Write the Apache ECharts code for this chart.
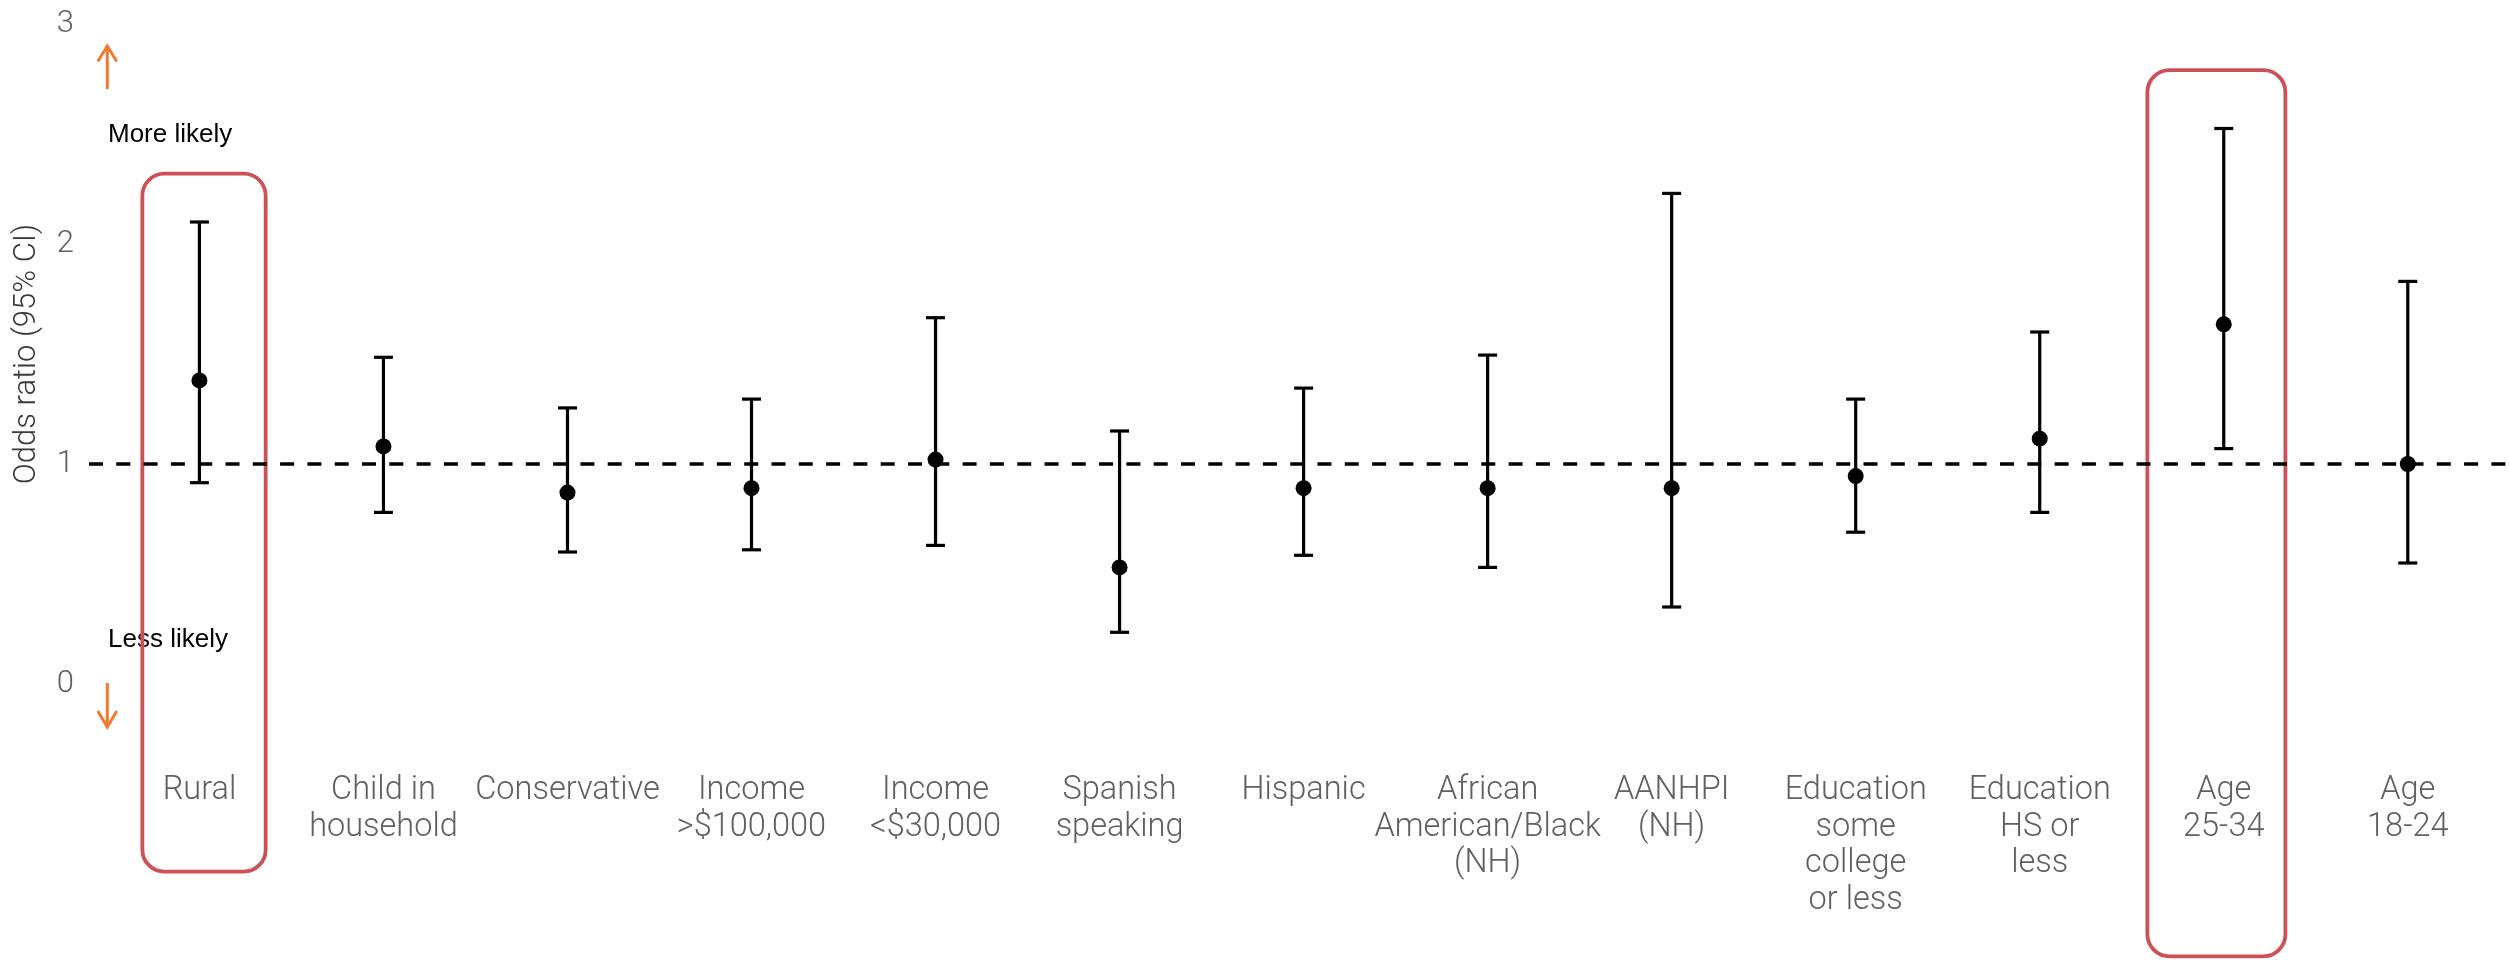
<!DOCTYPE html>
<html>
<head>
<meta charset="utf-8">
<title>Odds ratio (95% CI)</title>
<script src="https://cdn.jsdelivr.net/npm/echarts@6/dist/echarts.min.js"></script>
<style>
  html, body { margin: 0; padding: 0; background: #fff; }
  #chart { width: 2509px; height: 965px; }
</style>
</head>
<body>
<div id="chart"></div>
<script>
// Groups compared, in drawing order
const categories = [
  'Rural',
  'Child in\nhousehold',
  'Conservative',
  'Income\n>$100,000',
  'Income\n<$30,000',
  'Spanish\nspeaking',
  'Hispanic',
  'African\nAmerican/Black\n(NH)',
  'AANHPI\n(NH)',
  'Education\nsome\ncollege\nor less',
  'Education\nHS or\nless',
  'Age\n25-34',
  'Age\n18-24'
];

// Point estimates and 95% confidence bounds
const oddsRatio = [1.38, 1.08, 0.87, 0.89, 1.02, 0.53, 0.89, 0.89, 0.89, 0.945, 1.115, 1.635, 1.00];
const ciLower   = [0.915, 0.78, 0.60, 0.61, 0.63, 0.235, 0.585, 0.53, 0.35, 0.69, 0.78, 1.07, 0.55];
const ciUpper   = [2.10, 1.485, 1.255, 1.295, 1.665, 1.15, 1.345, 1.495, 2.23, 1.295, 1.60, 2.525, 1.83];

// Value-axis ticks and the no-effect reference
const yTicks = [0, 1, 2, 3];
const referenceOR = 1;

// Groups called out with a frame (extents in axis units)
const highlightBoxes = [
  { x0: -0.31, x1: 0.36, yTop: 2.32, yBottom: -0.853 },
  { x0: 10.585, x1: 11.335, yTop: 2.79, yBottom: -1.238 }
];

const positions = categories.map((_, i) => i);
const barData = positions.map(i => [i, ciLower[i], ciUpper[i]]);
const pointData = positions.map(i => [i, oddsRatio[i]]);
const boxData = highlightBoxes.map(b => [b.x0, b.x1, b.yTop, b.yBottom]);

const LIGHT = 'Roboto';
const GREY = '#606060';
const ORANGE = '#f07a30';

const chart = echarts.init(document.getElementById('chart'), null, { renderer: 'canvas' });

chart.setOption({
  animation: false,
  backgroundColor: '#ffffff',
  grid: { left: 89, right: 0, top: 24, bottom: 281, containLabel: false },
  xAxis: {
    type: 'value',
    min: -0.6,
    max: 12.55,
    axisLine: { show: false },
    axisTick: { show: false },
    splitLine: { show: false },
    axisLabel: {
      customValues: positions,
      formatter: v => categories[Math.round(v)],
      margin: 89,
      color: GREY,
      fontFamily: LIGHT,
      fontWeight: 300,
      fontSize: 32.5,
      lineHeight: 36.5,
      align: 'center'
    }
  },
  yAxis: {
    type: 'value',
    min: yTicks[0],
    max: yTicks[yTicks.length - 1],
    interval: 1,
    name: 'Odds ratio (95% CI)',
    nameLocation: 'middle',
    nameGap: 46,
    nameTextStyle: { color: '#3a3a3a', fontFamily: LIGHT, fontWeight: 300, fontSize: 31 },
    axisLine: { show: false },
    axisTick: { show: false },
    splitLine: { show: false },
    axisLabel: { margin: 15, color: GREY, fontFamily: LIGHT, fontWeight: 300, fontSize: 31 }
  },
  series: [
    {
      // rounded frames around highlighted groups
      type: 'custom',
      clip: false,
      silent: true,
      z: 1,
      data: boxData,
      renderItem: (params, api) => {
        const tl = api.coord([api.value(0), api.value(2)]);
        const br = api.coord([api.value(1), api.value(3)]);
        return {
          type: 'rect',
          shape: { x: tl[0], y: tl[1], width: br[0] - tl[0], height: br[1] - tl[1], r: 22 },
          style: { fill: 'none', stroke: '#cc5257', lineWidth: 3.8 }
        };
      }
    },
    {
      // confidence intervals with end caps
      type: 'custom',
      clip: false,
      silent: true,
      z: 3,
      data: barData,
      renderItem: (params, api) => {
        const lo = api.coord([api.value(0), api.value(1)]);
        const hi = api.coord([api.value(0), api.value(2)]);
        const half = 9.5;
        const st = { stroke: '#000', lineWidth: 3.2 };
        return {
          type: 'group',
          children: [
            { type: 'line', shape: { x1: lo[0], y1: lo[1], x2: hi[0], y2: hi[1] }, style: st },
            { type: 'line', shape: { x1: hi[0] - half, y1: hi[1], x2: hi[0] + half, y2: hi[1] }, style: st },
            { type: 'line', shape: { x1: lo[0] - half, y1: lo[1], x2: lo[0] + half, y2: lo[1] }, style: st }
          ]
        };
      }
    },
    {
      // point estimates
      type: 'scatter',
      data: pointData,
      symbol: 'circle',
      symbolSize: 16,
      itemStyle: { color: '#000', opacity: 1 },
      z: 4,
      silent: true,
      markLine: {
        silent: true,
        symbol: ['none', 'none'],
        label: { show: false },
        lineStyle: { color: '#000', width: 3.6, type: [14, 13.3], opacity: 1 },
        data: [{ yAxis: referenceOR }]
      }
    }
  ],
  graphic: [
    {
      type: 'group',
      silent: true,
      children: [
        { type: 'line', shape: { x1: 107.3, y1: 46, x2: 107.3, y2: 89 }, style: { stroke: ORANGE, lineWidth: 3 } },
        { type: 'polyline', shape: { points: [[97.8, 61.5], [107.3, 46], [116.8, 61.5]] }, style: { stroke: ORANGE, lineWidth: 3, fill: 'none' } },
        { type: 'line', shape: { x1: 107.3, y1: 683, x2: 107.3, y2: 727 }, style: { stroke: ORANGE, lineWidth: 3 } },
        { type: 'polyline', shape: { points: [[97.8, 711], [107.3, 727], [116.8, 711]] }, style: { stroke: ORANGE, lineWidth: 3, fill: 'none' } },
        { type: 'text', x: 108, y: 135, style: { text: 'More likely', fill: '#000', font: '26px "Liberation Sans", Arial, sans-serif', verticalAlign: 'middle' } },
        { type: 'text', x: 108, y: 640, style: { text: 'Less likely', fill: '#000', font: '26px "Liberation Sans", Arial, sans-serif', verticalAlign: 'middle' } }
      ]
    }
  ]
});
</script>
</body>
</html>
